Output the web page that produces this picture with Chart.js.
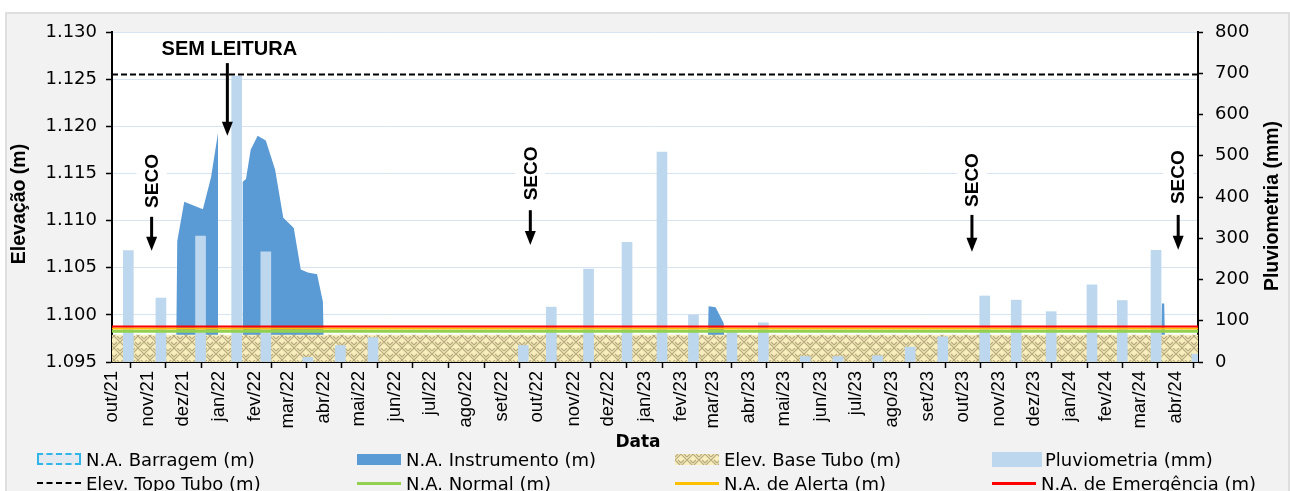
<!DOCTYPE html>
<html>
<head>
<meta charset="UTF-8">
<title>Piezometro - Elevacao x Pluviometria</title>
<script src="https://cdn.jsdelivr.net/npm/chart.js@4.4.1/dist/chart.umd.min.js"></script>
<style>
    body { margin: 0; background: #fff; overflow: hidden; }
    #wrap { position: relative; width: 1290px; height: 491px; overflow: hidden; }
    #moldura { position: absolute; left: 5px; top: 12px; width: 1281px; height: 500px; background: #f2f2f2; border: 2px solid #dedede; }
    #grafico { position: absolute; left: 0; top: 0; }
    #legenda { position: absolute; left: 0; top: 0; font-family: "DejaVu Sans"; font-size: 18px; color: #000; }
    .item { position: absolute; display: flex; align-items: center; white-space: nowrap; height: 20px; }
    .sw { display: inline-block; margin-right: 5px; box-sizing: border-box; }
</style>
</head>
<body>
<div id="wrap">
    <div id="moldura"></div>
    <canvas id="grafico" width="1290" height="491"></canvas>
    <div id="legenda"></div>
</div>
<script>
    var inicio = Date.UTC(2021, 9, 1);
    function dia(s) {
        var p = s.split('-');
        return (Date.UTC(+p[0], p[1] - 1, +p[2]) - inicio) / 86400000;
    }

    // rotulos do eixo x (um por mes)
    var rotulosMeses = ['out/21', 'nov/21', 'dez/21', 'jan/22', 'fev/22', 'mar/22', 'abr/22', 'mai/22',
        'jun/22', 'jul/22', 'ago/22', 'set/22', 'out/22', 'nov/22', 'dez/22', 'jan/23', 'fev/23',
        'mar/23', 'abr/23', 'mai/23', 'jun/23', 'jul/23', 'ago/23', 'set/23', 'out/23', 'nov/23',
        'dez/23', 'jan/24', 'fev/24', 'mar/24', 'abr/24'];
    var fimEixo = '2024-04-20';

    // pluviometria mensal (mm)
    var datasChuva = ['2021-10-15', '2021-11-12', '2021-12-16', '2022-01-16', '2022-02-10', '2022-03-18',
        '2022-04-15', '2022-05-13', '2022-09-19', '2022-10-13', '2022-11-14', '2022-12-17', '2023-01-16',
        '2023-02-12', '2023-03-17', '2023-04-13', '2023-05-19', '2023-06-16', '2023-07-20', '2023-08-17',
        '2023-09-14', '2023-10-20', '2023-11-16', '2023-12-16', '2024-01-20', '2024-02-15', '2024-03-15',
        '2024-04-19'];
    var chuva = [270, 155, 305, 693, 267, 11, 40, 59, 40, 133, 225, 290, 509, 114, 75, 95, 13, 13, 15, 36,
        61, 160, 150, 122, 187, 149, 271, 19];

    // leituras do N.A. no instrumento (m) - null = sem leitura
    var datasInstrumento = ['2021-10-01', '2021-11-25', '2021-11-26', '2021-12-02', '2021-12-18', '2021-12-25',
        '2021-12-31', '2022-01-08', '2022-01-21', '2022-01-24', '2022-01-28', '2022-02-03', '2022-02-10',
        '2022-02-18', '2022-02-25', '2022-03-06', '2022-03-12', '2022-03-18', '2022-03-26', '2022-03-31',
        '2022-04-01', '2023-02-24', '2023-02-25', '2023-03-03', '2023-03-10', '2023-03-11', '2024-03-19',
        '2024-03-20', '2024-03-22', '2024-03-23', '2024-04-20'];
    var naInstrumento = [1.0951, 1.0951, 1.1078, 1.1120, 1.1112, 1.1146, 1.1193, null, 1.1141, 1.1144, 1.1175,
        1.1190, 1.1185, 1.1154, 1.1103, 1.1092, 1.1048, 1.1045, 1.1043, 1.1014, 1.0951, 1.0951, 1.1009,
        1.1008, 1.0991, 1.0951, 1.0951, 1.1012, 1.1012, 1.0951, 1.0951];

    // cotas de referencia (m)
    var elevBaseTubo = 1.0979;
    var elevTopoTubo = 1.1255;
    var naNormal = 1.09827;
    var naAlerta = 1.09855;
    var naEmergencia = 1.09876;

    // anotacoes
    var secoDatas = ['2021-11-04', '2022-09-25', '2023-10-09', '2024-04-03'];
    var secoTexto = [1.1142, 1.1150, 1.1143, 1.1146];
    var secoSetaTopo = [1.1104, 1.1111, 1.1106, 1.1106];
    var secoSetaPonta = [1.1068, 1.1074, 1.1067, 1.1069];
    var semLeituraData = '2022-01-08';
    var semLeituraTexto = 1.1281;
    var semLeituraSeta = [1.1267, 1.1190];

    function pontos(datas, valores) {
        return datas.map(function (d, i) { return {x: dia(d), y: valores[i]}; });
    }
    function constante(v) {
        return [{x: 0, y: v}, {x: dia(fimEixo), y: v}];
    }

    function criaTrama() {
        var c = document.createElement('canvas');
        c.width = 12; c.height = 12;
        var g = c.getContext('2d');
        g.fillStyle = '#f7edbd';
        g.fillRect(0, 0, 12, 12);
        g.strokeStyle = '#b7a97c';
        g.lineWidth = 1.1;
        g.beginPath();
        [[0, 0, 1], [6, 6, 1], [6, 0, -1], [0, 6, -1]].forEach(function (q) {
            var x = q[0], y = q[1];
            if (q[2] > 0) {
                g.moveTo(x, y + 6); g.lineTo(x + 6, y);
                g.moveTo(x, y + 3); g.lineTo(x + 3, y);
            } else {
                g.moveTo(x, y); g.lineTo(x + 6, y + 6);
                g.moveTo(x + 3, y); g.lineTo(x + 6, y + 3);
            }
        });
        g.stroke();
        return c;
    }
    var tramaCanvas = criaTrama();
    var trama = document.getElementById('grafico').getContext('2d').createPattern(tramaCanvas, 'repeat');

    var ticksMeses = rotulosMeses.map(function (r, i) {
        return (Date.UTC(2021, 9 + i, 1) - inicio) / 86400000;
    });

    var linhaBase = {type: 'line', pointRadius: 0, tension: 0, fill: false, yAxisID: 'y'};
    function linha(extra) { return Object.assign({}, linhaBase, extra); }

    var datasets = [
        linha({label: 'N.A. Barragem (m)', data: [], borderColor: '#2fb5e8', borderDash: [5, 3],
            backgroundColor: '#e3e9ee', borderWidth: 2, order: 7}),
        linha({label: 'N.A. Instrumento (m)', data: pontos(datasInstrumento, naInstrumento), fill: 'start',
            backgroundColor: '#5b9bd5', borderColor: '#5b9bd5', borderWidth: 0, spanGaps: false, order: 6}),
        linha({label: 'Elev. Base Tubo (m)', data: constante(elevBaseTubo), fill: 'start',
            backgroundColor: trama, borderWidth: 0, order: 5}),
        {type: 'bar', label: 'Pluviometria (mm)', data: pontos(datasChuva, chuva), yAxisID: 'y1',
            backgroundColor: '#bdd7ee', barThickness: 10, order: 4},
        linha({label: 'Elev. Topo Tubo (m)', data: constante(elevTopoTubo), borderColor: '#000',
            borderDash: [6, 3], borderWidth: 2, order: 0}),
        linha({label: 'N.A. Normal (m)', data: constante(naNormal), borderColor: '#92d050', borderWidth: 3, order: 3}),
        linha({label: 'N.A. de Alerta (m)', data: constante(naAlerta), borderColor: '#ffc000', borderWidth: 2, order: 2}),
        linha({label: 'N.A. de Emergência (m)', data: constante(naEmergencia), borderColor: '#ff0000', borderWidth: 2, order: 1})
    ];

    function seta(ctx, x, y0, y1) {
        ctx.strokeStyle = '#000';
        ctx.fillStyle = '#000';
        ctx.lineWidth = 3;
        ctx.beginPath();
        ctx.moveTo(x, y0);
        ctx.lineTo(x, y1 - 12);
        ctx.stroke();
        ctx.beginPath();
        ctx.moveTo(x - 5.5, y1 - 14);
        ctx.lineTo(x + 5.5, y1 - 14);
        ctx.lineTo(x, y1);
        ctx.closePath();
        ctx.fill();
    }

    var anotacoes = {
        id: 'anotacoes',
        beforeDraw: function (chart) {
            var a = chart.chartArea, ctx = chart.ctx;
            ctx.save();
            ctx.fillStyle = '#fff';
            ctx.fillRect(a.left, a.top, a.right - a.left, a.bottom - a.top);
            ctx.restore();
        },
        afterDatasetsDraw: function (chart) {
            var ctx = chart.ctx, sx = chart.scales.x, sy = chart.scales.y;
            ctx.save();
            // SEM LEITURA
            var xs = sx.getPixelForValue(dia(semLeituraData));
            ctx.font = 'bold 20px "Liberation Sans"';
            ctx.fillStyle = '#000';
            ctx.textAlign = 'center';
            ctx.textBaseline = 'middle';
            ctx.fillText('SEM LEITURA', xs + 2, sy.getPixelForValue(semLeituraTexto));
            seta(ctx, xs, sy.getPixelForValue(semLeituraSeta[0]), sy.getPixelForValue(semLeituraSeta[1]));
            // SECO
            secoDatas.forEach(function (d, i) {
                var x = sx.getPixelForValue(dia(d));
                var yc = sy.getPixelForValue(secoTexto[i]);
                ctx.save();
                ctx.translate(x, yc);
                ctx.rotate(-Math.PI / 2);
                ctx.font = 'bold 19px "Liberation Sans"';
                var w = ctx.measureText('SECO').width;
                ctx.fillStyle = '#fff';
                ctx.fillRect(-w / 2 - 4, -15, w + 8, 30);
                ctx.fillStyle = '#000';
                ctx.textAlign = 'center';
                ctx.textBaseline = 'middle';
                ctx.fillText('SECO', 0, 1);
                ctx.restore();
                seta(ctx, x, sy.getPixelForValue(secoSetaTopo[i]), sy.getPixelForValue(secoSetaPonta[i]));
            });
            ctx.restore();
        },
        afterDraw: function (chart) {
            var ctx = chart.ctx;
            ctx.save();
            ctx.fillStyle = '#000';
            ctx.textAlign = 'center';
            ctx.textBaseline = 'middle';
            ctx.font = 'bold 19.5px "Liberation Sans"';
            [['Elevação (m)', 20, 204], ['Pluviometria (mm)', 1273, 206]].forEach(function (t) {
                ctx.save();
                ctx.translate(t[1], t[2]);
                ctx.rotate(-Math.PI / 2);
                ctx.fillText(t[0], 0, 0);
                ctx.restore();
            });
            ctx.font = 'bold 17px "DejaVu Sans"';
            ctx.fillText('Data', 638, 443);
            ctx.restore();
        }
    };

    var fonteY = {family: 'DejaVu Sans', size: 18};
    var grafico = new Chart(document.getElementById('grafico'), {
        type: 'bar',
        data: {datasets: datasets},
        options: {
            responsive: false,
            animation: false,
            events: [],
            layout: {padding: {top: 32, left: 0, right: 0, bottom: 0}},
            plugins: {legend: {display: false}, tooltip: {enabled: false}},
            scales: {
                x: {
                    type: 'linear',
                    offset: false,
                    min: 0,
                    max: dia(fimEixo),
                    afterBuildTicks: function (s) {
                        s.ticks = ticksMeses.map(function (v) { return {value: v}; });
                    },
                    afterFit: function (s) { s.height = 129; },
                    ticks: {
                        autoSkip: false,
                        minRotation: 90,
                        maxRotation: 90,
                        padding: 3,
                        color: '#000',
                        font: {family: 'Liberation Sans', size: 18.5},
                        callback: function (v) {
                            var i = ticksMeses.indexOf(v);
                            return i >= 0 ? rotulosMeses[i] : '';
                        }
                    },
                    grid: {drawOnChartArea: false, tickLength: 6, tickColor: '#000', tickWidth: 1.5},
                    border: {color: '#000', width: 2}
                },
                y: {
                    position: 'left',
                    min: 1.095,
                    max: 1.130,
                    afterFit: function (s) { s.width = 112; },
                    ticks: {
                        stepSize: 0.005,
                        padding: 9,
                        color: '#000',
                        font: fonteY,
                        callback: function (v) { return v.toFixed(3); }
                    },
                    grid: {color: '#d9e4f2', lineWidth: 1, tickLength: 6, tickColor: '#000', tickWidth: 1.5},
                    border: {color: '#000', width: 2}
                },
                y1: {
                    position: 'right',
                    min: 0,
                    max: 800,
                    afterFit: function (s) { s.width = 92; },
                    ticks: {stepSize: 100, padding: 12, color: '#000', font: fonteY},
                    grid: {drawOnChartArea: false, tickLength: 5, tickColor: '#000', tickWidth: 1.5},
                    border: {color: '#000', width: 2}
                }
            }
        },
        plugins: [anotacoes]
    });

    // legenda em 4 colunas x 2 linhas
    var colunas = [37, 357, 675, 992];
    var linhas = [459, 483];
    var tramaUrl = tramaCanvas.toDataURL();
    var leg = document.getElementById('legenda');
    grafico.data.datasets.forEach(function (ds, i) {
        var item = document.createElement('div');
        item.className = 'item';
        item.style.left = colunas[i % 4] + 'px';
        item.style.top = (linhas[Math.floor(i / 4)] - 10) + 'px';
        var sw = document.createElement('span');
        sw.className = 'sw';
        if (i === 0) {
            sw.style.cssText = 'width:44px;height:12px;border:2px dashed ' + ds.borderColor + ';background:' + ds.backgroundColor;
        } else if (i === 1) {
            sw.style.cssText = 'width:44px;height:11px;background:' + ds.backgroundColor;
        } else if (i === 2) {
            sw.style.cssText = 'width:44px;height:11px;background:url(' + tramaUrl + ')';
        } else if (i === 3) {
            sw.style.cssText = 'width:50px;height:15px;margin-right:3px;background:' + ds.backgroundColor;
        } else if (i === 4) {
            sw.style.cssText = 'width:44px;height:0;border-top:2px dashed #000';
        } else {
            sw.style.cssText = 'width:44px;height:3px;background:' + ds.borderColor;
        }
        item.appendChild(sw);
        item.appendChild(document.createTextNode(ds.label));
        leg.appendChild(item);
    });
</script>
</body>
</html>
